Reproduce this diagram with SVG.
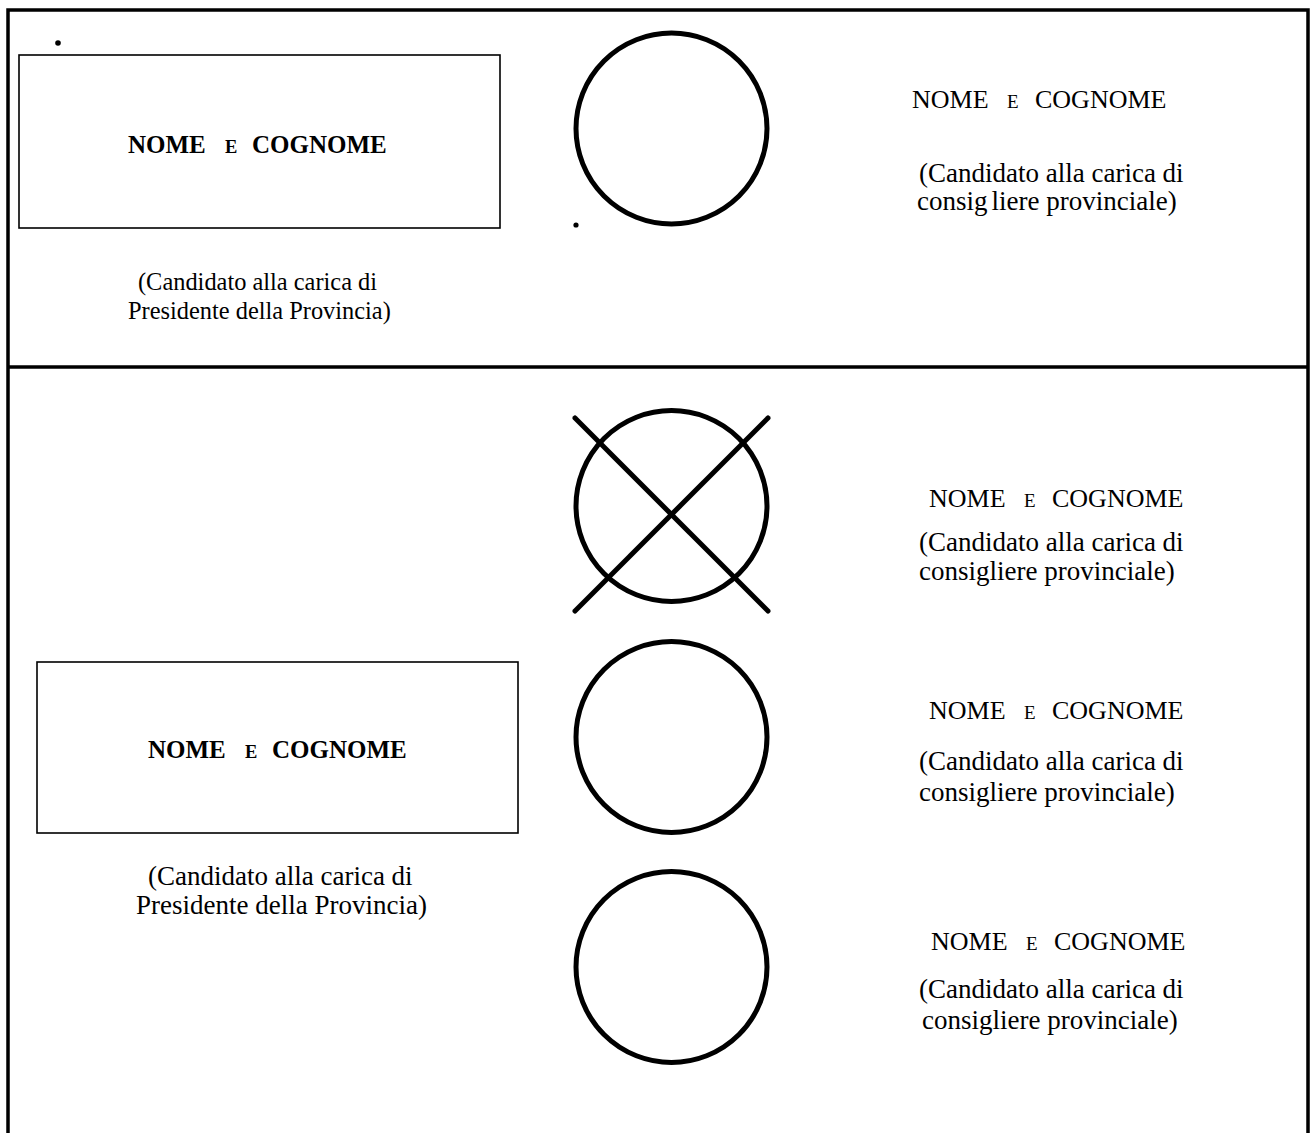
<svg xmlns="http://www.w3.org/2000/svg" width="1313" height="1133" viewBox="0 0 1313 1133">
<style>
.frame{fill:none;stroke:#000;stroke-width:3.5}
.box{fill:none;stroke:#000;stroke-width:1.6}
.ring{fill:none;stroke:#000;stroke-width:5}
.cross{stroke:#000;stroke-width:5;stroke-linecap:round}
.dot{fill:#000}
.b{font-family:"Liberation Serif","Times New Roman",serif;font-weight:bold;font-size:25px;fill:#000}
.r{font-family:"Liberation Serif","Times New Roman",serif;font-size:26px;fill:#000}
.cap{font-family:"Liberation Serif","Times New Roman",serif;font-size:27px;fill:#000}
.capS{font-family:"Liberation Serif","Times New Roman",serif;font-size:24.4px;fill:#000}
.smb{font-size:18.5px}
.sm{font-size:19px}
</style>
<rect width="1313" height="1133" fill="#fff"/>
<g id="frame">
  <path class="frame" d="M8,1133 V10 H1308 V1133"/>
  <line class="frame" x1="8" y1="367" x2="1308" y2="367"/>
</g>
<g id="connectors"></g>

<g id="president-top">
  <circle class="dot" cx="58" cy="43" r="2.8"/>
  <rect class="box" x="19" y="55" width="481" height="173"/>
  <text class="b" y="153"><tspan x="128">NOME</tspan><tspan class="smb" x="225">E</tspan><tspan x="252">COGNOME</tspan></text>
  <text class="capS" x="138" y="290">(Candidato alla carica di</text>
  <text class="capS" x="128" y="319">Presidente della Provincia)</text>
</g>

<g id="circle-top">
  <circle class="ring" cx="671.5" cy="128.5" r="95.5"/>
  <circle class="dot" cx="576" cy="225" r="2.6"/>
</g>

<g id="councillor-top">
  <text class="r" y="108"><tspan x="912">NOME</tspan><tspan class="sm" x="1007">E</tspan><tspan x="1035">COGNOME</tspan></text>
  <text class="cap" x="919" y="182">(Candidato alla carica di</text>
  <text class="cap" x="917" y="210">consig<tspan dx="4">liere provinciale)</tspan></text>
</g>

<g id="president-bottom">
  <rect class="box" x="37" y="662" width="481" height="171"/>
  <text class="b" y="758"><tspan x="148">NOME</tspan><tspan class="smb" x="245">E</tspan><tspan x="272">COGNOME</tspan></text>
  <text class="cap" x="148" y="885">(Candidato alla carica di</text>
  <text class="cap" x="136" y="914">Presidente della Provincia)</text>
</g>

<g id="circle-x">
  <circle class="ring" cx="671.5" cy="506" r="95.5"/>
  <line class="cross" x1="575" y1="418" x2="768" y2="611"/>
  <line class="cross" x1="575" y1="611" x2="768" y2="418"/>
</g>

<g id="councillor-1">
  <text class="r" y="507"><tspan x="929">NOME</tspan><tspan class="sm" x="1024">E</tspan><tspan x="1052">COGNOME</tspan></text>
  <text class="cap" x="919" y="551">(Candidato alla carica di</text>
  <text class="cap" x="919" y="580">consigliere provinciale)</text>
</g>

<g id="circle-2">
  <circle class="ring" cx="671.5" cy="737" r="95.5"/>
</g>

<g id="councillor-2">
  <text class="r" y="719"><tspan x="929">NOME</tspan><tspan class="sm" x="1024">E</tspan><tspan x="1052">COGNOME</tspan></text>
  <text class="cap" x="919" y="770">(Candidato alla carica di</text>
  <text class="cap" x="919" y="801">consigliere provinciale)</text>
</g>

<g id="circle-3">
  <circle class="ring" cx="671.5" cy="967" r="95.5"/>
</g>

<g id="councillor-3">
  <text class="r" y="950"><tspan x="931">NOME</tspan><tspan class="sm" x="1026">E</tspan><tspan x="1054">COGNOME</tspan></text>
  <text class="cap" x="919" y="998">(Candidato alla carica di</text>
  <text class="cap" x="922" y="1029">consigliere provinciale)</text>
</g>
</svg>
